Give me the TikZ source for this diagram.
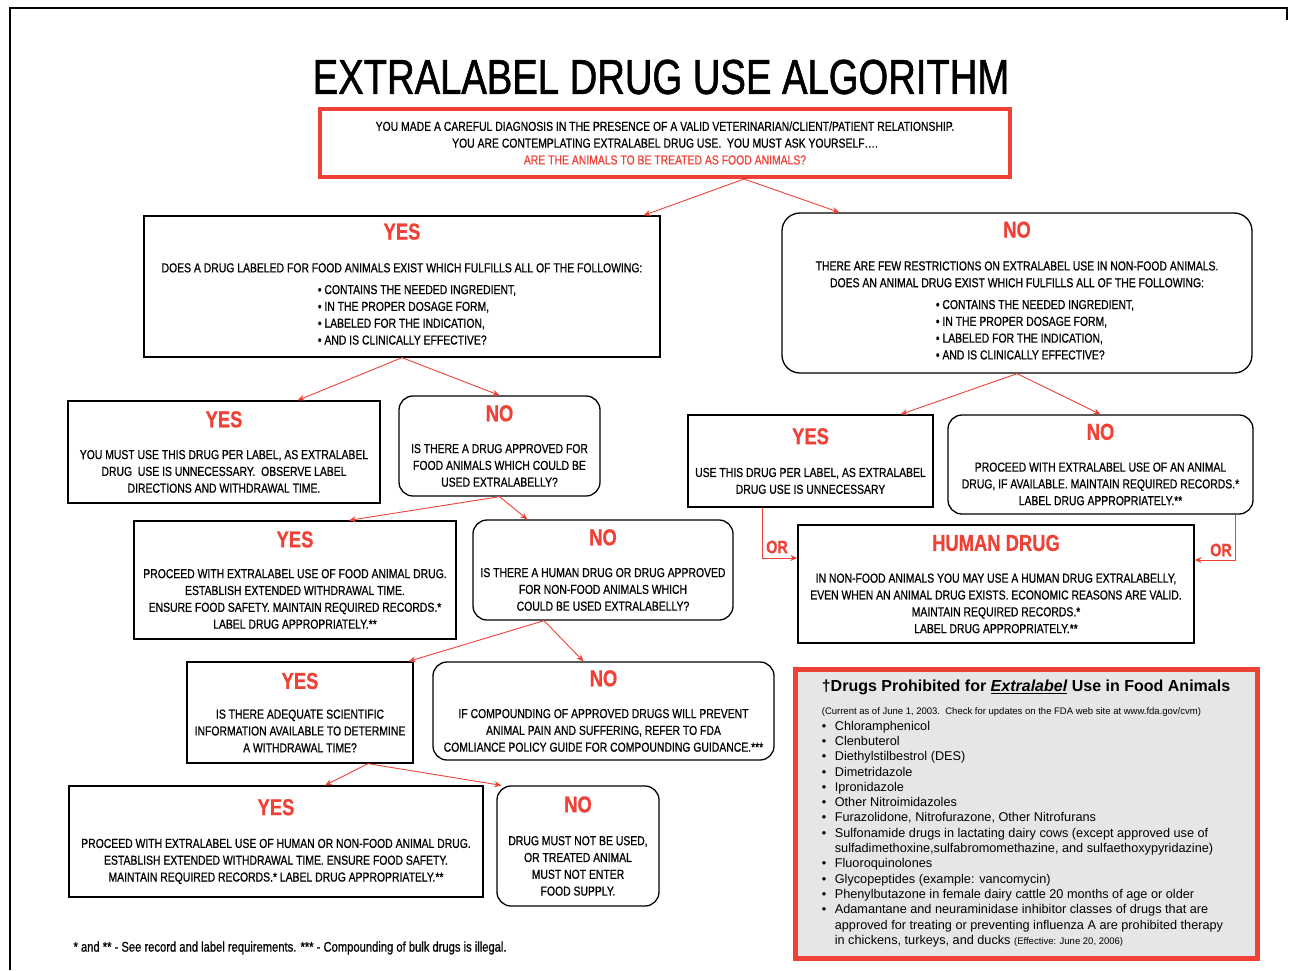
\documentclass[tikz,border=0pt]{standalone}
\usepackage{fontspec}
\setmainfont{Liberation Sans}
\newfontfamily\cnd[FakeStretch=0.80,FakeBold=0.7]{Liberation Sans}
\newfontfamily\bigcnd[FakeStretch=0.78,FakeBold=1.2]{Liberation Sans}
\usetikzlibrary{arrows.meta}
\definecolor{edred}{RGB}{239,65,54}
\definecolor{panelgray}{RGB}{230,230,230}
\newcommand{\ans}[1]{{\color{edred}\bfseries\fontsize{23}{26}\selectfont #1}}
\newcommand{\blist}[1]{\begin{tabular}[t]{@{}l@{}}#1\end{tabular}}
\newcommand{\drug}[1]{\makebox[13pt][l]{\textbullet}#1}
\tikzstyle{yesbox} = [rectangle,
                    draw=black,
                                        line width=1.3pt,
                                                            inner sep=0pt,
                                                                                align=center,
                                                                                                    font=\cnd\fontsize{13}{16.8}\selectfont]
\tikzstyle{nobox} = [yesbox,
                    rounded corners=14pt]
\tikzstyle{askbox} = [yesbox,
                    draw=edred,
                                        line width=4pt]
\tikzstyle{flow} = [draw=edred,
                    line width=0.9pt,
                                        -{Stealth[length=7pt,width=6pt]}]
\tikzstyle{ortag} = [text=edred,
                    inner sep=0pt,
                                        font=\cnd\bfseries\fontsize{18}{18}\selectfont]

\begin{document}
\begin{tikzpicture}[x=1pt, y=-1pt]
\useasboundingbox (0,0) rectangle (1289,970);
\draw[line width=2pt] (1287,20) -- (1287,8) -- (10,8) -- (10,970);
\node (title) [font=\bigcnd\fontsize{49}{52}\selectfont] at (661,77) {EXTRALABEL DRUG USE ALGORITHM};
\node (ask) [askbox, minimum width=690pt, minimum height=68pt] at (665,143) {YOU MADE A CAREFUL DIAGNOSIS IN THE PRESENCE OF A VALID VETERINARIAN/CLIENT/PATIENT RELATIONSHIP.\\ YOU ARE CONTEMPLATING EXTRALABEL DRUG USE.\ \ YOU MUST ASK YOURSELF\ldots.\\ \textcolor{edred}{ARE THE ANIMALS TO BE TREATED AS FOOD ANIMALS?}};
% food animals
\node (yes1) [yesbox, minimum width=516pt, minimum height=141pt] at (402,286.5) {\ans{YES}\\[16pt] DOES A DRUG LABELED FOR FOOD ANIMALS EXIST WHICH FULFILLS ALL OF THE FOLLOWING:\\[5pt] \hspace*{30pt}\blist{\textbullet\ CONTAINS THE NEEDED INGREDIENT,\\ \textbullet\ IN THE PROPER DOSAGE FORM,\\ \textbullet\ LABELED FOR THE INDICATION,\\ \textbullet\ AND IS CLINICALLY EFFECTIVE?}};
\node (yes2) [yesbox, minimum width=312pt, minimum height=102pt] at (224,452) {\ans{YES}\\[15pt] YOU MUST USE THIS DRUG PER LABEL, AS EXTRALABEL\\ DRUG\ \ USE IS UNNECESSARY.\ \ OBSERVE LABEL\\ DIRECTIONS AND WITHDRAWAL TIME.};
\node (no2) [nobox, minimum width=201pt, minimum height=100pt] at (499.5,446) {\ans{NO}\\[15pt] IS THERE A DRUG APPROVED FOR\\ FOOD ANIMALS WHICH COULD BE\\ USED EXTRALABELLY?};
\node (yes4) [yesbox, minimum width=322pt, minimum height=118pt] at (295,580) {\ans{YES}\\[14pt] PROCEED WITH EXTRALABEL USE OF FOOD ANIMAL DRUG.\\ ESTABLISH EXTENDED WITHDRAWAL TIME.\\ ENSURE FOOD SAFETY. MAINTAIN REQUIRED RECORDS.*\\ LABEL DRUG APPROPRIATELY.**};
\node (no4) [nobox, minimum width=260pt, minimum height=100pt] at (603,570) {\ans{NO}\\[15pt] IS THERE A HUMAN DRUG OR DRUG APPROVED\\ FOR NON-FOOD ANIMALS WHICH\\ COULD BE USED EXTRALABELLY?};
\node (yes5) [yesbox, minimum width=226pt, minimum height=101pt] at (300,712.5) {\ans{YES}\\[13pt] IS THERE ADEQUATE SCIENTIFIC\\ INFORMATION AVAILABLE TO DETERMINE\\ A WITHDRAWAL TIME?};
\node (no5) [nobox, minimum width=341pt, minimum height=98pt] at (603.5,711) {\ans{NO}\\[15pt] IF COMPOUNDING OF APPROVED DRUGS WILL PREVENT\\ ANIMAL PAIN AND SUFFERING, REFER TO FDA\\ COMLIANCE POLICY GUIDE FOR COMPOUNDING GUIDANCE.***};
\node (yes6) [yesbox, minimum width=414pt, minimum height=111pt] at (276,841.5) {\ans{YES}\\[16pt] PROCEED WITH EXTRALABEL USE OF HUMAN OR NON-FOOD ANIMAL DRUG.\\ ESTABLISH EXTENDED WITHDRAWAL TIME. ENSURE FOOD SAFETY.\\ MAINTAIN REQUIRED RECORDS.* LABEL DRUG APPROPRIATELY.**};
\node (no6) [nobox, minimum width=162pt, minimum height=120pt] at (578,846) {\ans{NO}\\[16pt] DRUG MUST NOT BE USED,\\ OR TREATED ANIMAL\\ MUST NOT ENTER\\ FOOD SUPPLY.};
% non-food animals
\node (no1) [nobox, minimum width=470pt, minimum height=160pt, rounded corners=18pt] at (1017,293) {\ans{NO}\\[16pt] THERE ARE FEW RESTRICTIONS ON EXTRALABEL USE IN NON-FOOD ANIMALS.\\ DOES AN ANIMAL DRUG EXIST WHICH FULFILLS ALL OF THE FOLLOWING:\\[5pt] \hspace*{36pt}\blist{\textbullet\ CONTAINS THE NEEDED INGREDIENT,\\ \textbullet\ IN THE PROPER DOSAGE FORM,\\ \textbullet\ LABELED FOR THE INDICATION,\\ \textbullet\ AND IS CLINICALLY EFFECTIVE?}};
\node (yes3) [yesbox, minimum width=245pt, minimum height=92pt] at (810.5,461) {\ans{YES}\\[16pt] USE THIS DRUG PER LABEL, AS EXTRALABEL\\ DRUG USE IS UNNECESSARY};
\node (no3) [nobox, minimum width=305pt, minimum height=99pt] at (1100.5,464.5) {\ans{NO}\\[15pt] PROCEED WITH EXTRALABEL USE OF AN ANIMAL\\ DRUG, IF AVAILABLE. MAINTAIN REQUIRED RECORDS.*\\ LABEL DRUG APPROPRIATELY.**};
\node (human) [yesbox, minimum width=396pt, minimum height=118pt] at (996,584) {\ans{HUMAN DRUG}\\[15pt] IN NON-FOOD ANIMALS YOU MAY USE A HUMAN DRUG EXTRALABELLY,\\ EVEN WHEN AN ANIMAL DRUG EXISTS. ECONOMIC REASONS ARE VALID.\\ MAINTAIN REQUIRED RECORDS.*\\ LABEL DRUG APPROPRIATELY.**};
\node (orl) [ortag] at (777,547) {OR};
\node (orr) [ortag] at (1221,550) {OR};
% prohibited list
\node (banned) [draw=edred, line width=5pt, fill=panelgray, minimum width=462pt, minimum height=289pt, inner sep=0pt, align=left, font=\fontsize{12.7}{15.3}\selectfont] at (1026,813.5) {{\bfseries\fontsize{16}{18}\selectfont\textdagger Drugs Prohibited for \underline{\textit{Extralabel}} Use in Food Animals}\\[8pt]
{\fontsize{9.5}{12}\selectfont (Current as of June 1, 2003.\ \ Check for updates on the FDA web site at www.fda.gov/cvm)}\\
\drug{Chloramphenicol}\\
\drug{Clenbuterol}\\
\drug{Diethylstilbestrol (DES)}\\
\drug{Dimetridazole}\\
\drug{Ipronidazole}\\
\drug{Other Nitroimidazoles}\\
\drug{Furazolidone, Nitrofurazone, Other Nitrofurans}\\
\drug{Sulfonamide drugs in lactating dairy cows (except approved use of}\\
\hspace*{13pt}sulfadimethoxine,sulfabromomethazine, and sulfaethoxypyridazine)\\
\drug{Fluoroquinolones}\\
\drug{Glycopeptides (example: vancomycin)}\\
\drug{Phenylbutazone in female dairy cattle 20 months of age or older}\\
\drug{Adamantane and neuraminidase inhibitor classes of drugs that are}\\
\hspace*{13pt}approved for treating or preventing influenza A are prohibited therapy\\
\hspace*{13pt}in chickens, turkeys, and ducks {\fontsize{9.5}{12}\selectfont (Effective: June 20, 2006)}};
\node (note) [anchor=west, font=\cnd\fontsize{14}{16}\selectfont] at (70,948) {* and ** - See record and label requirements. *** - Compounding of bulk drugs is illegal.};
% connectors
\draw[flow] ([xshift=79pt]ask.south) -- ([xshift=-17pt]yes1.north east);
\draw[flow] ([xshift=79pt]ask.south) -- ([xshift=58pt]no1.north west);
\draw[flow] (yes1.south) -- ([xshift=-83pt]yes2.north east);
\draw[flow] (yes1.south) -- (no2.north);
\draw[flow] (no2.south) -- ([xshift=54pt]yes4.north);
\draw[flow] (no2.south) -- ([xshift=55pt]no4.north west);
\draw[flow] ([xshift=-59pt]no4.south) -- ([xshift=-5pt]yes5.north east);
\draw[flow] ([xshift=-59pt]no4.south) -- ([xshift=-20pt]no5.north);
\draw[flow] ([xshift=68pt]yes5.south) -- ([xshift=49pt]yes6.north);
\draw[flow] ([xshift=68pt]yes5.south) -- ([xshift=5pt]no6.north west);
\draw[flow] (no1.south) -- ([xshift=-33pt]yes3.north east);
\draw[flow] (no1.south) -- (no3.north);
\draw[flow] ([xshift=75pt]yes3.south west) |- ([yshift=26pt]human.west);
\draw[flow] ([xshift=-18pt]no3.south east) |- ([yshift=24pt]human.east);
\end{tikzpicture}
\end{document}
